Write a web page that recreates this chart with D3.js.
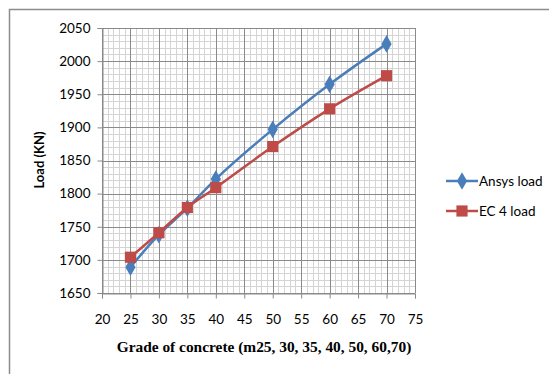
<!DOCTYPE html>
<html>
<head>
<meta charset="utf-8">
<script src="https://cdn.jsdelivr.net/npm/d3@7"></script>
<style>
  html, body { margin: 0; padding: 0; background: #fff; }
  svg { display: block; }
</style>
</head>
<body>
<svg id="chart" width="549" height="374"></svg>
<script>
// Concrete grade (MPa) and the corresponding load in kN
const grades = [25, 30, 35, 40, 50, 60, 70];
const ansysLoad = [1689, 1738, 1778, 1822, 1897, 1965, 2026];
const ec4Load = [1704, 1741, 1779, 1809, 1871, 1928, 1978];
const xTicks = [20, 25, 30, 35, 40, 45, 50, 55, 60, 65, 70, 75];
const yTicks = [1650, 1700, 1750, 1800, 1850, 1900, 1950, 2000, 2050];
const seriesNames = ["Ansys load", "EC 4 load"];

const svg = d3.select("#chart");
const plotLeft = 102, plotRight = 415, plotTop = 28, plotBottom = 293;

const x = d3.scaleLinear().domain([20, 75]).range([plotLeft, plotRight]);
const y = d3.scaleLinear().domain([1650, 2050]).range([plotBottom, plotTop]);

// outer chart frame
svg.append("rect")
  .attr("x", 9.5).attr("y", 9.5).attr("width", 600).attr("height", 400)
  .attr("fill", "none").attr("stroke", "#8c8c8c").attr("stroke-width", 1.5);

// minor grid (every 1 unit across, every 10 kN up)
const g = svg.append("g");
g.selectAll("line.mx").data(d3.range(20, 76, 1)).join("line")
  .attr("x1", d => Math.round(x(d)) + 0.5).attr("x2", d => Math.round(x(d)) + 0.5)
  .attr("y1", plotTop).attr("y2", plotBottom)
  .attr("stroke", "#d4d4d4").attr("stroke-width", 1);
g.selectAll("line.my").data(d3.range(1650, 2051, 10)).join("line")
  .attr("y1", d => Math.round(y(d)) + 0.5).attr("y2", d => Math.round(y(d)) + 0.5)
  .attr("x1", plotLeft).attr("x2", plotRight)
  .attr("stroke", "#d4d4d4").attr("stroke-width", 1);
// major grid
g.selectAll("line.Mx").data(xTicks).join("line")
  .attr("x1", d => Math.round(x(d)) + 0.5).attr("x2", d => Math.round(x(d)) + 0.5)
  .attr("y1", plotTop).attr("y2", plotBottom)
  .attr("stroke", "#8a8a8a").attr("stroke-width", 1);
g.selectAll("line.My").data(yTicks).join("line")
  .attr("y1", d => Math.round(y(d)) + 0.5).attr("y2", d => Math.round(y(d)) + 0.5)
  .attr("x1", plotLeft).attr("x2", plotRight)
  .attr("stroke", "#8a8a8a").attr("stroke-width", 1);

// axes
const fmt = d3.format("d");
const xAxis = d3.axisBottom(x).tickValues(xTicks).tickFormat(fmt).tickSize(5).tickPadding(16);
const yAxis = d3.axisLeft(y).tickValues(yTicks).tickFormat(fmt).tickSize(5).tickPadding(7);
const gx = svg.append("g").attr("transform", `translate(0,${plotBottom + 0.5})`).call(xAxis);
const gy = svg.append("g").attr("transform", `translate(${plotLeft + 0.5},0)`).call(yAxis);
[gx, gy].forEach(a => {
  a.select(".domain").attr("stroke", "#8a8a8a");
  a.selectAll(".tick line").attr("stroke", "#8a8a8a");
  a.selectAll(".tick text")
    .attr("fill", "#000")
    .style("font-family", "Lato, 'Open Sans', sans-serif")
    .style("font-size", "13.5px");
});

// axis titles
svg.append("text")
  .attr("x", 264).attr("y", 352)
  .attr("text-anchor", "middle")
  .style("font-family", "'Liberation Serif', 'Times New Roman', serif")
  .style("font-weight", "bold").style("font-size", "15.4px")
  .text("Grade of concrete (m25, 30, 35, 40, 50, 60,70)");
svg.append("text")
  .attr("transform", "translate(44,160) rotate(-90)")
  .attr("text-anchor", "middle")
  .style("font-family", "Lato, 'Open Sans', sans-serif")
  .style("font-weight", "bold").style("font-size", "13px")
  .text("Load (KN)");

// series
const colors = ["#4a7ebb", "#be4b48"];
const seriesData = [ansysLoad, ec4Load];
const line = d3.line().x(d => x(d[0])).y(d => y(d[1])).curve(d3.curveCatmullRom.alpha(0.5));
const diamond = d3.symbol().type(d3.symbolDiamond).size(90);
const square = d3.symbol().type(d3.symbolSquare).size(125);
const shapes = [diamond, square];

seriesData.forEach((vals, i) => {
  const pts = grades.map((gd, j) => [gd, vals[j]]);
  svg.append("path").datum(pts)
    .attr("d", line).attr("fill", "none")
    .attr("stroke", colors[i]).attr("stroke-width", 2.5);
});
seriesData.forEach((vals, i) => {
  svg.append("g").selectAll("path").data(grades.map((gd, j) => [gd, vals[j]])).join("path")
    .attr("transform", d => `translate(${x(d[0])},${y(d[1])})`)
    .attr("d", shapes[i]).attr("fill", colors[i]);
});

// legend
const legY = [181, 211];
seriesNames.forEach((name, i) => {
  const lg = svg.append("g");
  lg.append("line").attr("x1", 446).attr("x2", 478).attr("y1", legY[i]).attr("y2", legY[i])
    .attr("stroke", colors[i]).attr("stroke-width", 2.5);
  lg.append("path").attr("transform", `translate(462,${legY[i]})`)
    .attr("d", shapes[i]).attr("fill", colors[i]);
  lg.append("text").attr("x", 479).attr("y", legY[i] + 5)
    .style("font-family", "Lato, 'Open Sans', sans-serif")
    .style("font-size", "13.5px")
    .text(name);
});
</script>
</body>
</html>
